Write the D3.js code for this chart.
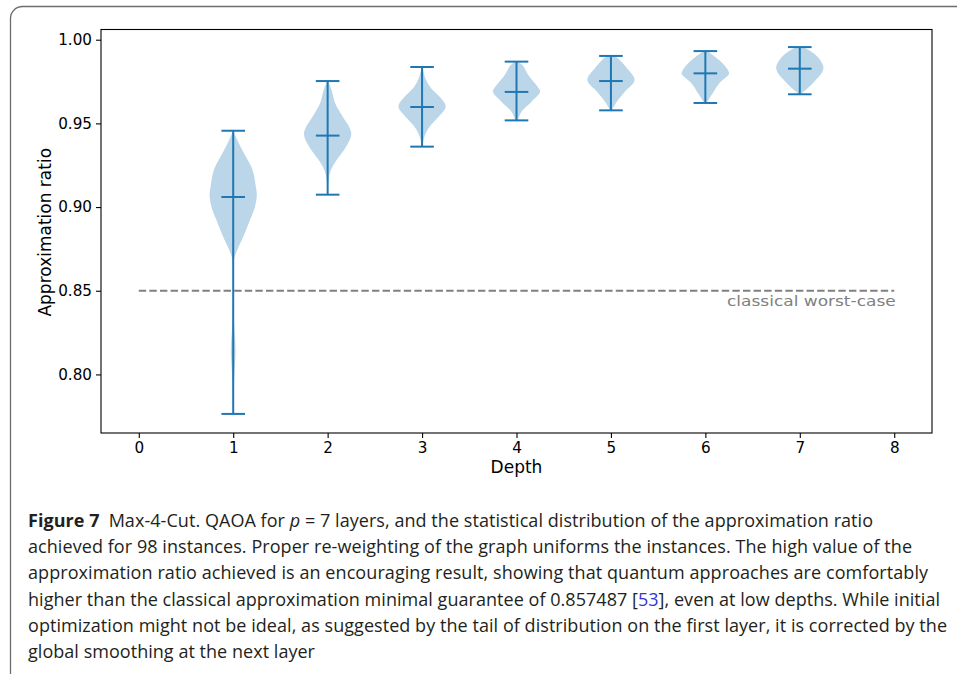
<!DOCTYPE html>
<html>
<head>
<meta charset="utf-8">
<script src="https://cdn.jsdelivr.net/npm/d3@7"></script>
<style>
  html, body { margin: 0; padding: 0; background: #fff; }
  svg { display: block; }
</style>
</head>
<body>
<svg id="fig" width="957" height="674"></svg>
<script>
// QAOA depth (number of layers) for each violin
const depths = [1, 2, 3, 4, 5, 6, 7];
// Extremes and central value of the approximation ratio per depth
const maxima = [0.9456, 0.9753, 0.9837, 0.9869, 0.9903, 0.9932, 0.9956];
const centres = [0.9060, 0.9427, 0.9598, 0.9688, 0.9753, 0.9799, 0.9827];
const minima = [0.7764, 0.9074, 0.9361, 0.9518, 0.9578, 0.9622, 0.9674];
// Density outline of each violin: [ratio, density relative to the violin's peak]
const profiles = [
  [[0.9456, 0.0], [0.9401, 0.17], [0.9323, 0.45], [0.9222, 0.82], [0.9120, 0.96], [0.9072, 1.0],
   [0.9001, 0.92], [0.8923, 0.71], [0.8821, 0.42], [0.8744, 0.17], [0.8684, 0.03], [0.8594, 0.01],
   [0.8446, 0.01], [0.8308, 0.035], [0.8146, 0.10], [0.8027, 0.06], [0.7908, 0.02], [0.7764, 0.0]],
  [[0.9753, 0.02], [0.9699, 0.17], [0.9620, 0.32], [0.9540, 0.64], [0.9471, 0.94], [0.9431, 1.0],
   [0.9361, 0.78], [0.9281, 0.38], [0.9222, 0.14], [0.9162, 0.04], [0.9074, 0.01]],
  [[0.9837, 0.02], [0.9770, 0.14], [0.9710, 0.38], [0.9650, 0.80], [0.9600, 1.0], [0.9530, 0.64],
   [0.9470, 0.27], [0.9420, 0.10], [0.9361, 0.01]],
  [[0.9869, 0.05], [0.9849, 0.25], [0.9789, 0.50], [0.9710, 0.94], [0.9689, 1.0], [0.9630, 0.64],
   [0.9570, 0.21], [0.9530, 0.08], [0.9518, 0.03]],
  [[0.9903, 0.15], [0.9889, 0.30], [0.9829, 0.68], [0.9759, 1.0], [0.9689, 0.59], [0.9630, 0.25],
   [0.9590, 0.08], [0.9578, 0.04]],
  [[0.9932, 0.05], [0.9919, 0.21], [0.9859, 0.73], [0.9809, 0.99], [0.9795, 1.0], [0.9740, 0.59],
   [0.9680, 0.31], [0.9640, 0.13], [0.9622, 0.04]],
  [[0.9956, 0.05], [0.9949, 0.25], [0.9898, 0.75], [0.9849, 0.98], [0.9831, 1.0], [0.9799, 0.92],
   [0.9749, 0.61], [0.9710, 0.33], [0.9680, 0.08], [0.9674, 0.03]]
];
// Classical worst-case guarantee drawn as a reference line
const classicalBound = 0.85;
const boundLabel = "classical worst-case";
const xTicks = [0, 1, 2, 3, 4, 5, 6, 7, 8];
const yTicks = [0.80, 0.85, 0.90, 0.95, 1.00];
const xTitle = "Depth";
const yTitle = "Approximation ratio";
// Caption, one entry per printed line; each line is a list of styled runs
const captionLines = [
  [["Figure 7", "bold"], ["\u2002Max-4-Cut. QAOA for ", ""], ["p", "italic"], [" = 7 layers, and the statistical distribution of the approximation ratio", ""]],
  [["achieved for 98 instances. Proper re-weighting of the graph uniforms the instances. The high value of the", ""]],
  [["approximation ratio achieved is an encouraging result, showing that quantum approaches are comfortably", ""]],
  [["higher than the classical approximation minimal guarantee of 0.857487 [", ""], ["53", "link"], ["], even at low depths. While initial", ""]],
  [["optimization might not be ideal, as suggested by the tail of distribution on the first layer, it is corrected by the", ""]],
  [["global smoothing at the next layer", ""]]
];
const captionRight = [873, 912, 928, 940, 947, 315];

const svg = d3.select("#fig");
const blue = "#1f77b4";
const plot = { left: 101, right: 932, top: 29.5, bottom: 433 };
const labelFont = "DejaVu Sans";
const labelSize = 17;
const tickSize = 15.2;

// Figure panel frame
svg.append("rect")
  .attr("x", 10.5).attr("y", 6.5).attr("width", 1000).attr("height", 680)
  .attr("rx", 12).attr("ry", 12)
  .attr("fill", "none").attr("stroke", "#6d6d6d").attr("stroke-width", 1.3);

const x = d3.scaleLinear().domain([-0.4, 8.4]).range([plot.left, plot.right]);
const y = d3.scaleLinear().domain([0.765, 1.0061]).range([plot.bottom, plot.top]);
const halfWidth = x(0.25) - x(0);
const capHalf = x(0.125) - x(0);

const g = svg.append("g");

// Violin bodies
const area = d3.area()
  .curve(d3.curveCatmullRom.alpha(0.5))
  .y(d => y(d[0]));

depths.forEach((dep, i) => {
  const cx = x(dep);
  g.append("path")
    .datum(profiles[i])
    .attr("d", area.x0(d => cx - d[1] * halfWidth).x1(d => cx + d[1] * halfWidth))
    .attr("fill", blue).attr("fill-opacity", 0.3).attr("stroke", "none");
});

// Reference line for the classical guarantee
g.append("line")
  .attr("x1", x(0)).attr("x2", x(8))
  .attr("y1", y(classicalBound)).attr("y2", y(classicalBound))
  .attr("stroke", "#808080").attr("stroke-width", 1.9)
  .attr("stroke-dasharray", "7.4,3.2");

g.append("text")
  .attr("transform", `translate(${x(8) + 1.5},${y(classicalBound) + 15.5}) scale(1,0.86)`)
  .attr("text-anchor", "end")
  .attr("font-family", labelFont).attr("font-size", labelSize)
  .attr("fill", "#808080")
  .text(boundLabel);

// Extremes and central bars
depths.forEach((dep, i) => {
  const cx = x(dep);
  const line = (x1, x2, y1, y2) => g.append("line")
    .attr("x1", x1).attr("x2", x2).attr("y1", y1).attr("y2", y2)
    .attr("stroke", blue).attr("stroke-width", 2);
  line(cx, cx, y(minima[i]), y(maxima[i]));
  line(cx - capHalf, cx + capHalf, y(maxima[i]), y(maxima[i]));
  line(cx - capHalf, cx + capHalf, y(minima[i]), y(minima[i]));
  line(cx - capHalf, cx + capHalf, y(centres[i]), y(centres[i]));
});

// Axes
const xAxis = d3.axisBottom(x).tickValues(xTicks).tickFormat(d3.format("d")).tickSize(5).tickPadding(4.5);
const yAxis = d3.axisLeft(y).tickValues(yTicks).tickFormat(d3.format(".2f")).tickSize(5).tickPadding(4);

const gx = svg.append("g").attr("transform", `translate(0,${plot.bottom})`).call(xAxis);
const gy = svg.append("g").attr("transform", `translate(${plot.left},0)`).call(yAxis);
[gx, gy].forEach(a => {
  a.attr("font-family", labelFont).attr("font-size", tickSize);
  a.select(".domain").remove();
  a.selectAll(".tick line").attr("stroke", "#000").attr("stroke-width", 1.1);
  a.selectAll(".tick text").attr("fill", "#000");
});

// Plot frame
svg.append("rect")
  .attr("x", plot.left).attr("y", plot.top)
  .attr("width", plot.right - plot.left).attr("height", plot.bottom - plot.top)
  .attr("fill", "none").attr("stroke", "#000").attr("stroke-width", 1.1);

// Axis titles
svg.append("text")
  .attr("x", (plot.left + plot.right) / 2).attr("y", 473)
  .attr("text-anchor", "middle")
  .attr("font-family", labelFont).attr("font-size", labelSize).attr("fill", "#000")
  .text(xTitle);

svg.append("text")
  .attr("transform", `translate(50.5,${(plot.top + plot.bottom) / 2 + 1}) rotate(-90)`)
  .attr("text-anchor", "middle")
  .attr("font-family", labelFont).attr("font-size", labelSize).attr("fill", "#000")
  .text(yTitle);

// Caption
const capLeft = 28, capBase = 527, capStep = 26.2;
captionLines.forEach((runs, li) => {
  const t = svg.append("text")
    .attr("x", capLeft).attr("y", capBase + li * capStep)
    .attr("font-family", "Open Sans").attr("font-size", 18)
    .attr("fill", "#231f20");
  runs.forEach(([txt, style]) => {
    const s = t.append("tspan").text(txt);
    if (style === "bold") s.attr("font-weight", "bold");
    if (style === "italic") s.attr("font-style", "italic");
    if (style === "link") s.attr("fill", "#3636d6");
  });
  if (captionRight[li] != null) {
    const natural = t.node().getComputedTextLength();
    const n = runs.map(r => r[0]).join("").length;
    const ls = (captionRight[li] - capLeft - natural) / (n - 1);
    t.attr("letter-spacing", ls.toFixed(3));
  }
});
</script>
</body>
</html>
